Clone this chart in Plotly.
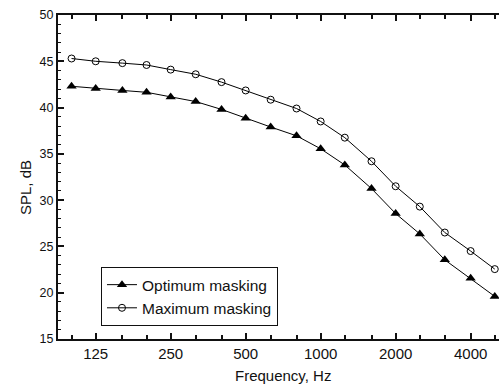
import plotly.graph_objects as go

# One-third-octave band centre frequencies, Hz
freq = [100, 125, 160, 200, 250, 315, 400, 500, 630, 800,
        1000, 1250, 1600, 2000, 2500, 3150, 4000, 5000]

# Sound pressure level, dB
optimum_masking = [42.3, 42.05, 41.85, 41.65, 41.15, 40.65, 39.8, 38.85, 37.9, 36.95,
                   35.55, 33.8, 31.25, 28.55, 26.35, 23.55, 21.55, 19.6]
maximum_masking = [45.3, 45.0, 44.8, 44.6, 44.1, 43.6, 42.75, 41.85, 40.85, 39.9,
                   38.5, 36.75, 34.2, 31.5, 29.3, 26.5, 24.5, 22.55]

octave_ticks = [125, 250, 500, 1000, 2000, 4000]
octave_labels = ["125", "250", "500", "1000", "2000", "4000"]
third_octave_ticks = [f for f in freq if f not in octave_ticks]

FONT = "Liberation Sans, Arial, sans-serif"
INK = "#111111"
x_range = [1.9456, 3.7159]

fig = go.Figure()

fig.add_trace(go.Scatter(
    x=freq, y=optimum_masking, mode="lines+markers", name="Optimum masking",
    line=dict(color="black", width=1),
    marker=dict(symbol="triangle-up", size=9, color="black"),
))
fig.add_trace(go.Scatter(
    x=freq, y=maximum_masking, mode="lines+markers", name="Maximum masking",
    line=dict(color="black", width=1),
    marker=dict(symbol="circle-open", size=7, color="black", line=dict(width=1)),
))
# carrier trace for the third-octave tick axis
fig.add_trace(go.Scatter(
    x=freq, y=optimum_masking, xaxis="x2", mode="markers",
    marker=dict(opacity=0), showlegend=False, hoverinfo="skip",
))

fig.update_layout(
    width=499, height=385,
    margin=dict(l=58, r=0, t=15, b=46),
    paper_bgcolor="white", plot_bgcolor="white",
    font=dict(family=FONT, size=15, color=INK),
    xaxis=dict(
        type="log", range=x_range,
        tickmode="array", tickvals=octave_ticks, ticktext=octave_labels,
        ticks="inside", ticklen=6, tickwidth=1.5, tickcolor=INK,
        showline=True, linecolor=INK, linewidth=2, mirror="ticks",
        showgrid=False, zeroline=False,
        tickfont=dict(size=15, color=INK),
    ),
    xaxis2=dict(
        type="log", range=x_range, overlaying="x",
        tickmode="array", tickvals=third_octave_ticks,
        ticks="inside", ticklen=4, tickwidth=1.5, tickcolor=INK,
        showticklabels=False, showline=False, mirror="ticks",
        showgrid=False, zeroline=False,
    ),
    yaxis=dict(
        range=[15, 50], dtick=5, tick0=15,
        ticks="inside", ticklen=6, tickwidth=1.5, tickcolor=INK,
        minor=dict(dtick=1, ticks="inside", ticklen=3, tickwidth=1, tickcolor=INK),
        showline=True, linecolor=INK, linewidth=2, mirror=False,
        showgrid=False, zeroline=False,
        tickfont=dict(size=12.5, color=INK),
    ),
    legend=dict(
        x=0.0975, y=0.222, xanchor="left", yanchor="top",
        bordercolor=INK, borderwidth=1, bgcolor="white",
        font=dict(family=FONT, size=15.5, color=INK),
        tracegroupgap=0,
    ),
    annotations=[
        dict(text="Frequency, Hz", xref="paper", yref="paper",
             x=0.511, y=-0.114, xanchor="center", yanchor="middle",
             showarrow=False, font=dict(size=15, color=INK)),
        dict(text="SPL, dB", xref="paper", yref="paper",
             x=-0.0748, y=0.466, xanchor="center", yanchor="middle",
             textangle=-90, showarrow=False, font=dict(size=15, color=INK)),
    ],
)

fig.write_html("out.html")
